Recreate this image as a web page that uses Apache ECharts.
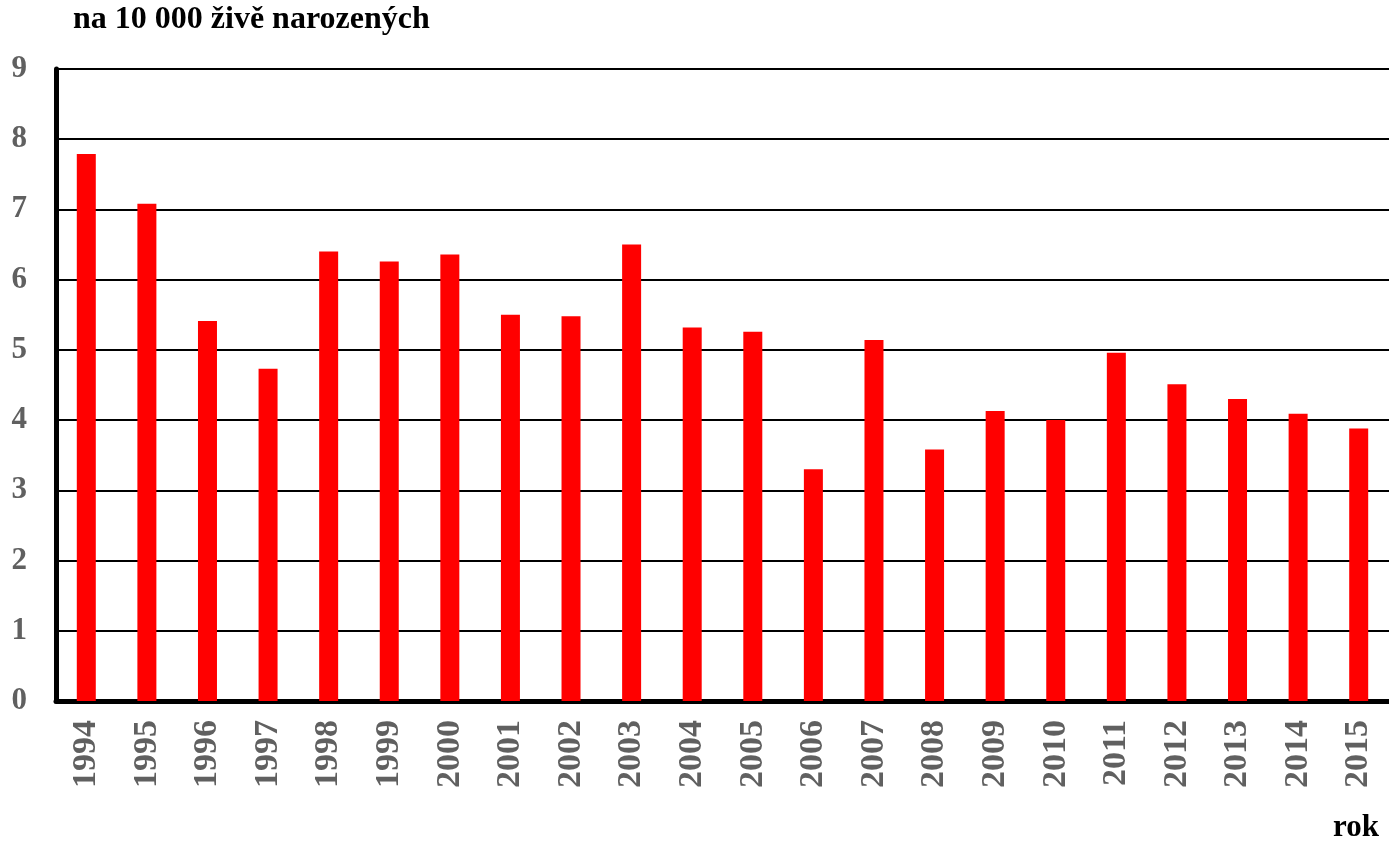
<!DOCTYPE html>
<html>
<head>
<meta charset="utf-8">
<script src="https://cdn.jsdelivr.net/npm/echarts@6/dist/echarts.min.js"></script>
<style>
  html, body { margin: 0; padding: 0; background: #fff; }
  #chart { width: 1389px; height: 843px; }
</style>
</head>
<body>
<div id="chart"></div>
<script>
const years = ['1994', '1995', '1996', '1997', '1998', '1999', '2000', '2001', '2002', '2003', '2004',
  '2005', '2006', '2007', '2008', '2009', '2010', '2011', '2012', '2013', '2014', '2015']
const rates = [7.79, 7.08, 5.41, 4.73, 6.40, 6.26, 6.36, 5.50, 5.48, 6.50, 5.32,
  5.26, 3.30, 5.14, 3.58, 4.13, 4.00, 4.96, 4.51, 4.30, 4.09, 3.88]

const unitLabel = 'na 10 000 živě narozených'
const xLabel = 'rok'

const serif = '"Liberation Serif", "Times New Roman", serif'
const chart = echarts.init(document.getElementById('chart'))

chart.setOption({
  animation: false,
  grid: { left: 56, right: -2, top: 69, bottom: 142 },
  graphic: [
    {
      type: 'text', left: 73, top: 4,
      style: { text: unitLabel, font: `bold 32px ${serif}`, fill: '#000' },
    },
    {
      type: 'text', left: 1333, top: 812,
      style: { text: xLabel, font: `bold 31px ${serif}`, fill: '#000' },
    },
  ],
  xAxis: {
    type: 'category',
    data: years,
    axisLine: { lineStyle: { color: '#000', width: 5 } },
    axisTick: { show: false },
    axisLabel: {
      rotate: 90,
      margin: 19,
      color: '#606060',
      fontFamily: serif,
      fontWeight: 'bold',
      fontSize: 34,
    },
  },
  yAxis: {
    type: 'value',
    min: 0,
    max: 9,
    interval: 1,
    axisLine: { show: true, lineStyle: { color: '#000', width: 5 } },
    axisTick: { show: false },
    splitLine: { lineStyle: { color: '#000', width: 2 } },
    axisLabel: {
      margin: 29,
      color: '#606060',
      fontFamily: serif,
      fontWeight: 'bold',
      fontSize: 31,
    },
  },
  series: [
    {
      type: 'bar',
      data: rates,
      barWidth: 19,
      itemStyle: { color: '#ff0000' },
    },
  ],
})
</script>
</body>
</html>
